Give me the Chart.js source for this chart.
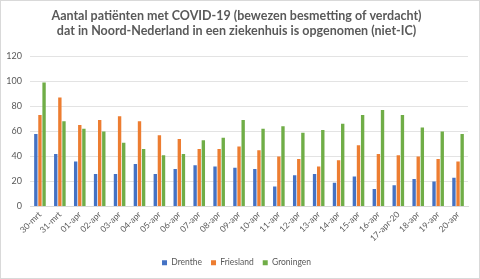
<!DOCTYPE html>
<html>
<head>
<meta charset="utf-8">
<script src="https://cdn.jsdelivr.net/npm/chart.js@4"></script>
<style>
html,body{margin:0;padding:0;background:#fff;}
#wrap{width:480px;height:279px;box-sizing:border-box;border:1px solid #d9d9d9;position:relative;}
canvas{display:block;}
</style>
</head>
<body>
<div id="wrap"><canvas id="c" width="478" height="277"></canvas></div>
<script>
const categories = ["30-mrt","31-mrt","01-apr","02-apr","03-apr","04-apr","05-apr","06-apr","07-apr","08-apr","09-apr","10-apr","11-apr","12-apr","13-apr","14-apr","15-apr","16-apr","17-apr-20","18-apr","19-apr","20-apr"];
const drenthe   = [58,42,36,26,26,34,26,30,33,32,31,30,16,25,26,19,24,14,17,22,20,23];
const friesland = [73,87,65,69,72,68,57,54,46,46,48,45,40,38,32,37,49,42,41,40,38,36];
const groningen = [99,68,62,60,51,46,41,42,53,55,69,62,64,59,61,66,73,77,73,63,60,58];
const yTicks = [0,20,40,60,80,100,120];
const titleLines = ["Aantal patiënten met COVID-19 (bewezen besmetting of verdacht)","dat in Noord-Nederland in een ziekenhuis is opgenomen (niet-IC)"];

const FONT = "Lato, 'Open Sans', sans-serif";
new Chart(document.getElementById('c'), {
  type: 'bar',
  data: {
    labels: categories,
    datasets: [
      {label:'Drenthe', data:drenthe, backgroundColor:'#4472C4'},
      {label:'Friesland', data:friesland, backgroundColor:'#ED7D31'},
      {label:'Groningen', data:groningen, backgroundColor:'#70AD47'}
    ]
  },
  options: {
    responsive:false,
    animation:false,
    datasets:{bar:{categoryPercentage:0.62, barPercentage:0.82}},
    layout:{padding:{left:4,right:11,top:0,bottom:1}},
    plugins:{
      title:{display:true,text:titleLines,color:'#595959',font:{family:FONT,size:12.5,weight:'bold',lineHeight:1.25},padding:{top:7,bottom:17}},
      legend:{position:'bottom',labels:{boxWidth:5,boxHeight:5,color:'#595959',font:{family:FONT,size:8.5},padding:9}},
      tooltip:{enabled:false}
    },
    scales:{
      x:{
        grid:{display:false,drawTicks:false},
        border:{display:true,color:'#d9d9d9'},
        ticks:{color:'#595959',font:{family:FONT,size:8.5},minRotation:45,maxRotation:45,padding:3,autoSkip:false},
        afterFit:(s)=>{s.height=43;}
      },
      y:{
        min:0,max:120,
        afterBuildTicks:(s)=>{s.ticks=yTicks.map(v=>({value:v}));},
        afterFit:(s)=>{s.width=25;},
        grid:{color:'#e3e3e3',drawTicks:false},
        border:{display:false},
        ticks:{color:'#595959',font:{family:FONT,size:9},padding:8}
      }
    }
  }
});
</script>
</body>
</html>
